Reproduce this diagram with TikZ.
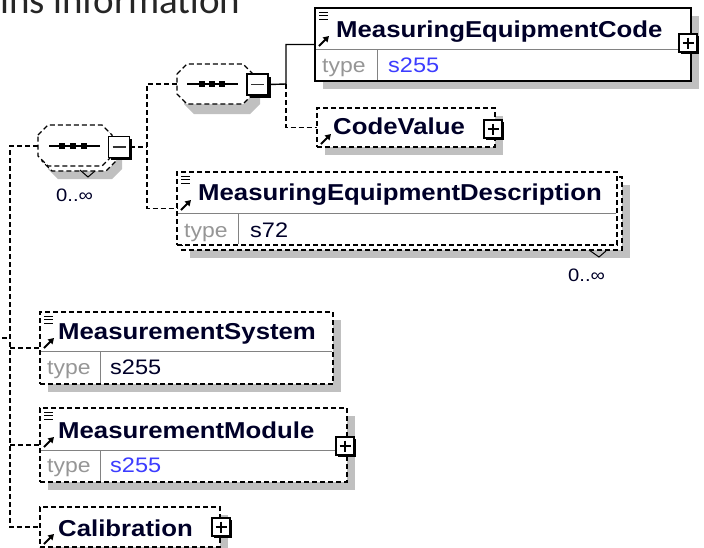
\documentclass[tikz,border=0pt]{standalone}
\usepackage{fontspec}
\setmainfont{Liberation Sans}
\newfontfamily\xsfont{Liberation Sans}[FakeStretch=1.12]
\newfontfamily\topfont{Carlito}
\usetikzlibrary{arrows.meta,shadows}
\definecolor{shgray}{RGB}{192,192,192}
\definecolor{typegray}{RGB}{150,150,150}
\definecolor{valblue}{RGB}{60,60,255}
\definecolor{navy}{RGB}{0,0,40}
\definecolor{divgray}{RGB}{130,130,130}
\newcommand\XLines[2]{%
  \draw[line width=1pt] (#1+4,#2+4) -- (#1+13,#2+4) (#1+4,#2+7.5) -- (#1+13,#2+7.5) (#1+4,#2+11) -- (#1+13,#2+11);}
\newcommand\XArrow[2]{%
  \draw[line width=1.8pt,-{Triangle[length=5.5pt,width=6.5pt]}] (#1+4,#2-3) -- (#1+14,#2-13);}
\begin{document}
\begin{tikzpicture}[x=1pt,y=-1pt,
  ebox/.style={draw=black, line width=1.3pt, fill=white, inner sep=0pt, outer sep=0pt, rectangle},
  obox/.style={ebox, dash pattern=on 5pt off 3pt},
  eshadow/.style={general shadow={fill=shgray, shadow xshift=8pt, shadow yshift=-8pt}},
  conn/.style={line width=1.3pt, dash pattern=on 5pt off 3pt},
  sconn/.style={line width=1.4pt},
  divider/.style={draw=divgray, line width=1pt},
  titlet/.style={font=\xsfont\bfseries\fontsize{23}{23}\selectfont, text=navy, anchor=base west, inner sep=0pt},
  typet/.style={font=\xsfont\fontsize{20.5}{20.5}\selectfont, text=typegray, anchor=base west, inner sep=0pt},
  valt/.style={font=\xsfont\fontsize{21}{21}\selectfont, text=navy, anchor=base west, inner sep=0pt},
  multt/.style={font=\xsfont\fontsize{18}{18}\selectfont, text=navy, anchor=base west, inner sep=0pt},
  pbox/.style={draw=black, fill=white, line width=1.3pt, minimum size=18pt, inner sep=0pt,
    general shadow={fill=black, shadow xshift=2.4pt, shadow yshift=-2.4pt},
    path picture={\draw[line width=1.4pt] ([xshift=3.5pt]path picture bounding box.west) -- ([xshift=-3.5pt]path picture bounding box.east) ([yshift=-3.5pt]path picture bounding box.north) -- ([yshift=3.5pt]path picture bounding box.south);}},
  mbox/.style={draw=black, fill=white, line width=1.8pt, minimum size=21pt, inner sep=0pt,
    general shadow={fill=black, shadow xshift=2.5pt, shadow yshift=-2.5pt},
    path picture={\draw[line width=1.3pt, black!80] ([xshift=4pt]path picture bounding box.west) -- ([xshift=-4pt]path picture bounding box.east);}},
  vtick/.style={line width=1pt}
]
\useasboundingbox (0,0) rectangle (704,547);
\clip (0,0) rectangle (704,547);

% header text (cut at the top edge, as in the reference)
\node[anchor=base west, inner sep=0pt, font=\topfont\fontsize{39}{39}\selectfont, text=black!85] (hdr) at (0,13) {ins information};

% coordinates for junctions
\coordinate (par) at (2,338);
\coordinate (jC) at (10,146);
\coordinate (outerleft) at (38,146);
\coordinate (jB) at (147,147);
\coordinate (innerleft) at (177,84);
\coordinate (jA) at (286,84);

% ---------- element boxes ----------
% MeasuringEquipmentCode
\node[ebox, eshadow, minimum width=376pt, minimum height=73pt] (mec) at (503,44.5) {};
\draw[divider] (316,49) -- (690,49) (377,49) -- (377,80);
\node[titlet] (mecT) at (336,37) {MeasuringEquipmentCode};
\node[typet] (mecTy) at (322,72) {type};
\node[valt, text=valblue] (mecV) at (388,72) {s255};
\XLines{315}{8}
\XArrow{315}{49}
\node[pbox] (mecP) at (688,43) {};

% CodeValue
\node[obox, eshadow, minimum width=178pt, minimum height=39pt] (cv) at (406,127.5) {};
\node[titlet] (cvT) at (333,134) {CodeValue};
\XArrow{317}{147}
\node[pbox] (cvP) at (493,129) {};

% MeasuringEquipmentDescription (multiple)
\fill[shgray] (190,185) rectangle (630,258);
\draw[obox] (182,177) rectangle (622,250);
\node[obox, minimum width=440pt, minimum height=73pt] (med) at (397,208.5) {};
\draw[divider] (178,213) -- (616,213) (238,213) -- (238,244);
\node[titlet] (medT) at (198,200) {MeasuringEquipmentDescription};
\node[typet] (medTy) at (184,237) {type};
\node[valt] (medV) at (250,237) {s72};
\XLines{177}{172}
\XArrow{177}{213}
\draw[vtick] (589,250) -- (599,257) -- (606,251);
\node[multt] (medM) at (568,281) {0..∞};

% MeasurementSystem
\node[obox, eshadow, minimum width=293pt, minimum height=72pt] (ms) at (186.5,348) {};
\draw[divider] (41,351) -- (332,351) (100,351) -- (100,383);
\node[titlet] (msT) at (58,339) {MeasurementSystem};
\node[typet] (msTy) at (47,374) {type};
\node[valt] (msV) at (110,374) {s255};
\XLines{40}{312}
\XArrow{40}{351}

% MeasurementModule
\node[obox, eshadow, minimum width=307pt, minimum height=74pt] (mm) at (193.5,445) {};
\draw[divider] (41,450) -- (346,450) (100,450) -- (100,481);
\node[titlet] (mmT) at (58,438) {MeasurementModule};
\node[typet] (mmTy) at (47,472) {type};
\node[valt, text=valblue] (mmV) at (110,472) {s255};
\XLines{40}{408}
\XArrow{40}{450}
\node[pbox] (mmP) at (345,446) {};

% Calibration
\node[obox, eshadow, minimum width=180pt, minimum height=40pt] (cal) at (130,527) {};
\node[titlet] (calT) at (58,536) {Calibration};
\XArrow{40}{547}
\node[pbox] (calP) at (221,527) {};

% ---------- connectors ----------
\draw[conn] (par) -- (10,338);
\draw[conn] (outerleft) -- (jC) |- (cal.west);
\draw[conn] (ms.west -| jC) -- (ms.west);
\draw[conn] (mm.west -| jC) -- (mm.west);
\draw[conn] (innerleft) -| (jB) |- (med.west);
\draw[conn] (jA) |- (cv.west);

% ---------- outer sequence (0..inf) ----------
\fill[shgray] (48,148) -- (58,138) -- (112,138) -- (122,148) -- (122,169) -- (112,179) -- (58,179) -- (48,169) -- cycle;
\draw[conn, fill=white] (42,140) -- (52,130) -- (106,130) -- (116,140) -- (116,161) -- (106,171) -- (52,171) -- (42,161) -- cycle;
\draw[conn, fill=white] (38,135) -- (48,125) -- (102,125) -- (112,135) -- (112,156) -- (102,166) -- (48,166) -- (38,156) -- cycle;
\draw[line width=1.3pt] (49,146) -- (100,146);
\foreach \sx in {62,73,84} \fill (\sx-3,143) rectangle (\sx+3,149);
\draw[vtick] (80,170) -- (88,177) -- (95,171);
\node[mbox] (mo) at (119,147) {};
\node[multt] (omult) at (56,201) {0..∞};
\draw[conn] (mo.east) -- (jB);

% ---------- inner sequence ----------
\fill[shgray] (184,84) -- (194,74) -- (250,74) -- (260,84) -- (260,104) -- (250,114) -- (194,114) -- (184,104) -- cycle;
\draw[conn, fill=white] (177,74) -- (187,64) -- (243,64) -- (253,74) -- (253,94) -- (243,104) -- (187,104) -- (177,94) -- cycle;
\draw[line width=1.3pt] (187,84) -- (238,84);
\foreach \sx in {202,212,222} \fill (\sx-3,81) rectangle (\sx+3,87);
\node[mbox] (mi) at (257.5,84.5) {};
\draw[sconn] (mi.east) -- (jA) |- (mec.west);
\end{tikzpicture}
\end{document}
